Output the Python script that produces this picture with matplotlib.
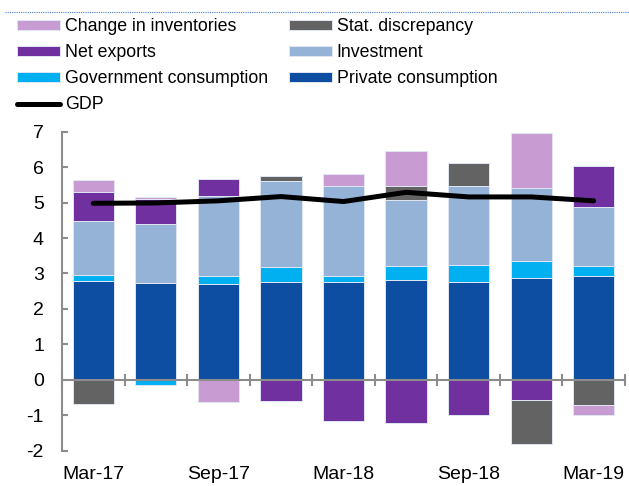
import numpy as np
import matplotlib
matplotlib.use("Agg")
from matplotlib import pyplot as plt
from matplotlib.lines import Line2D

plt.rcParams['font.family'] = ['Liberation Sans', 'DejaVu Sans']
plt.rcParams['axes.unicode_minus'] = False

quarters = ['Mar-17', 'Jun-17', 'Sep-17', 'Dec-17', 'Mar-18',
            'Jun-18', 'Sep-18', 'Dec-18', 'Mar-19']
tick_labels = ['Mar-17', '', 'Sep-17', '', 'Mar-18', '', 'Sep-18', '', 'Mar-19']

private = [2.79, 2.72, 2.69, 2.77, 2.77, 2.83, 2.75, 2.88, 2.93]
government = [0.16, -0.15, 0.25, 0.42, 0.17, 0.38, 0.48, 0.48, 0.28]
investment = [1.52, 1.69, 2.24, 2.43, 2.53, 1.86, 2.23, 2.06, 1.66]
net_exports = [0.84, 0.70, 0.48, -0.60, -1.16, -1.22, -0.98, -0.58, 1.16]
stat_disc = [-0.67, 0.0, 0.0, 0.14, 0.0, 0.39, 0.66, -1.22, -0.72]
inventories = [0.33, 0.04, -0.62, 0.0, 0.35, 0.99, 0.0, 1.53, -0.28]
gdp = [4.98, 4.99, 5.05, 5.17, 5.03, 5.29, 5.16, 5.16, 5.05]

# stacking order (bottom -> top), positives and negatives stacked separately
series = [
    ('Private consumption', private, '#0d4ea2'),
    ('Government consumption', government, '#00b0f0'),
    ('Investment', investment, '#95b3d7'),
    ('Net exports', net_exports, '#7030a0'),
    ('Stat. discrepancy', stat_disc, '#636363'),
    ('Change in inventories', inventories, '#c89bd2'),
]

fig = plt.figure(figsize=(6.29, 4.86), dpi=100)
ax = fig.add_axes([0.0986, 0.0726, 0.895, 0.6564])

x = np.arange(len(quarters))
pos_base = np.zeros(len(x))
neg_base = np.zeros(len(x))
handles = {}
for name, vals, col in series:
    v = np.array(vals)
    bottom = np.where(v >= 0, pos_base, neg_base)
    b = ax.bar(x, v, 0.66, bottom=bottom, color=col, edgecolor='#dfe6f2',
               linewidth=0.7, zorder=2)
    handles[name] = b
    pos_base = pos_base + np.where(v > 0, v, 0)
    neg_base = neg_base + np.where(v < 0, v, 0)

line, = ax.plot(x, gdp, color='black', lw=3.6, solid_capstyle='round',
                solid_joinstyle='round', zorder=4)

ax.set_xlim(-0.5, 8.5)
ax.set_ylim(-2, 7)
ax.set_yticks(np.arange(-2, 8, 1))
ax.tick_params(axis='y', direction='in', length=4.5, width=1.5, color='#8c8c8c',
               labelsize=14, pad=13)

for s in ['top', 'right']:
    ax.spines[s].set_visible(False)
ax.spines['left'].set_color('#8c8c8c')
ax.spines['left'].set_linewidth(1.5)
ax.spines['bottom'].set_position(('data', 0))
ax.spines['bottom'].set_color('#8c8c8c')
ax.spines['bottom'].set_linewidth(1.5)
ax.spines['bottom'].set_zorder(3)
ax.set_xticks(np.arange(-0.5, 9, 1))
ax.set_xticklabels([])
ax.tick_params(axis='x', direction='inout', length=8.5, width=1.5, color='#8c8c8c')

sec = ax.secondary_xaxis('bottom')
sec.set_xticks(x)
sec.set_xticklabels(tick_labels)
sec.tick_params(length=0, labelsize=14, pad=11)
sec.spines['bottom'].set_visible(False)

order = ['Change in inventories', 'Net exports', 'Government consumption', 'GDP',
         'Stat. discrepancy', 'Investment', 'Private consumption']
hs = [line if n == 'GDP' else handles[n] for n in order]
fig.legend(hs, order, loc='upper left', bbox_to_anchor=(0.027, 0.962), ncol=2,
           frameon=False, fontsize=12.8, handlelength=2.4, handleheight=0.45,
           handletextpad=0.28, labelspacing=0.5, columnspacing=1.2,
           borderpad=0, borderaxespad=0)

fig.add_artist(Line2D([0.008, 1.0], [0.976, 0.976], transform=fig.transFigure,
                      color='#4f81bd', lw=0.8, ls=(0, (1, 1))))

fig.savefig('out.png', dpi=100)
